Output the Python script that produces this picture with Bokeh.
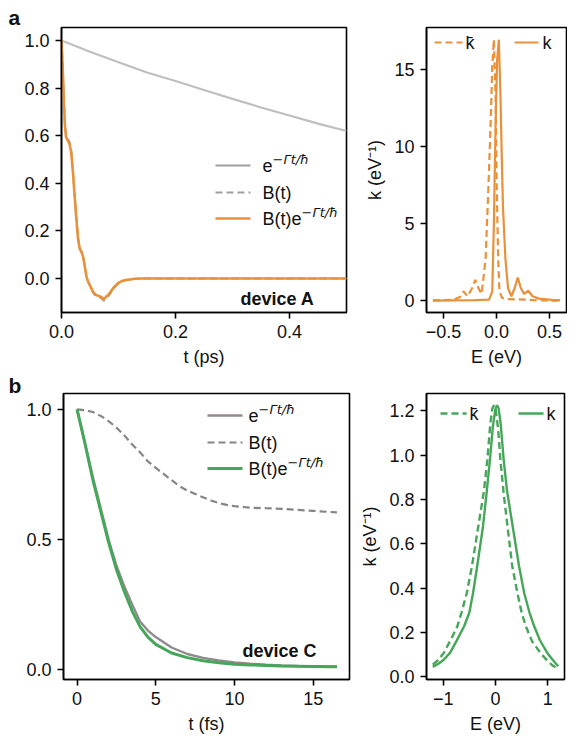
from bokeh.plotting import figure
from bokeh.models import Range1d, FixedTicker, CustomJSTickFormatter, Label, Arrow, Title
from bokeh.layouts import column, row
from bokeh.embed import file_html
from bokeh.resources import INLINE

FONT = "Liberation Sans"
ORANGE = "#E8913A"
GREEN = "#46A659"

# ---------------- data: panel a (device A) ----------------
t_a = [0, 0.002, 0.004, 0.006, 0.008, 0.011, 0.014, 0.017, 0.020, 0.023, 0.026,
       0.029, 0.032, 0.035, 0.038, 0.041, 0.044, 0.047, 0.050, 0.054, 0.058,
       0.062, 0.066, 0.070, 0.074, 0.078, 0.082, 0.086, 0.090, 0.095, 0.100,
       0.106, 0.112, 0.120, 0.130, 0.140, 0.160, 0.200, 0.300, 0.400, 0.500]
BexpA = [1.0, 0.895, 0.755, 0.643, 0.594, 0.580, 0.566, 0.531, 0.447, 0.349, 0.251,
         0.167, 0.125, 0.111, 0.090, 0.048, 0.006, -0.015, -0.029, -0.050, -0.064,
         -0.071, -0.074, -0.078, -0.088, -0.078, -0.069, -0.057, -0.043, -0.029, -0.018,
         -0.011, -0.007, -0.004, -0.001, 0.0, 0.0, 0.0, 0.0, 0.0, 0.0]
B_A = [1.0, 0.897, 0.758, 0.647, 0.598, 0.586, 0.574, 0.540, 0.456, 0.357, 0.257,
       0.172, 0.129, 0.115, 0.093, 0.050, 0.006, -0.016, -0.030, -0.053, -0.068,
       -0.075, -0.079, -0.083, -0.094, -0.084, -0.074, -0.062, -0.047, -0.032, -0.020,
       -0.012, -0.008, -0.004, -0.001, 0.0, 0.0, 0.0, 0.0, 0.0, 0.0]
t_expA = [0, 0.05, 0.10, 0.15, 0.20, 0.25, 0.30, 0.35, 0.40, 0.45, 0.50]
expA = [1.0, 0.953, 0.909, 0.866, 0.830, 0.792, 0.755, 0.719, 0.685, 0.651, 0.620]

E_a = [-0.60, -0.50, -0.40, -0.34, -0.31, -0.274, -0.23, -0.20, -0.17, -0.14,
       -0.103, -0.078, -0.056, -0.040, -0.025, -0.009, 0.003, 0.016, 0.028,
       0.053, 0.10, 0.20, 0.27, 0.35, 0.45, 0.60]
kbar_a = [0.02, 0.04, 0.06, 0.25, 0.60, 0.28, 0.80, 1.35, 0.80, 0.43,
          2.7, 7.0, 11.3, 15.1, 16.9, 13.4, 7.0, 2.7, 0.6,
          0.17, 0.10, 0.08, 0.06, 0.03, 0.01, 0.0]
E_a2 = [-0.60, -0.40, -0.20, -0.07, -0.04, -0.025, -0.009, 0.006, 0.022, 0.037,
        0.050, 0.062, 0.084, 0.109, 0.14, 0.171, 0.20, 0.23, 0.26, 0.30,
        0.34, 0.40, 0.52, 0.60]
k_a = [0.0, 0.02, 0.03, 0.06, 0.6, 4.9, 11.3, 15.6, 16.9, 13.4,
       9.1, 5.9, 2.7, 0.8, 0.28, 0.8, 1.5, 0.8, 0.43, 0.64,
       0.28, 0.13, 0.05, 0.03]

# ---------------- data: panel b (device C) ----------------
t_c = [0, 0.5, 1, 1.5, 2, 2.5, 3, 3.5, 4, 4.5, 5, 6, 7, 8, 9, 10, 11, 12, 13, 14, 15, 16, 16.5]
expC = [1.0, 0.87, 0.74, 0.62, 0.50, 0.40, 0.32, 0.25, 0.185, 0.15, 0.125, 0.085, 0.06,
        0.045, 0.035, 0.028, 0.023, 0.019, 0.016, 0.014, 0.013, 0.012, 0.012]
BexpC = [1.0, 0.87, 0.73, 0.61, 0.49, 0.385, 0.30, 0.225, 0.165, 0.125, 0.097, 0.064, 0.046,
         0.034, 0.026, 0.021, 0.018, 0.016, 0.014, 0.013, 0.012, 0.011, 0.011]
t_Bc = [0, 0.5, 1.0, 1.5, 2.0, 2.5, 3.0, 3.5, 4.0, 4.5, 5.0, 5.5, 6.0, 6.5, 7.0, 7.5,
        8.0, 8.5, 9.0, 9.5, 10.0, 11.0, 12.0, 13.0, 14.0, 15.0, 16.5]
B_C = [1.0, 0.997, 0.99, 0.975, 0.955, 0.93, 0.90, 0.865, 0.835, 0.80, 0.775, 0.752,
       0.728, 0.705, 0.688, 0.675, 0.662, 0.650, 0.640, 0.633, 0.628, 0.622, 0.620,
       0.618, 0.614, 0.610, 0.604]

E_c = [-1.2, -1.1, -1.0, -0.87, -0.75, -0.6, -0.5, -0.43, -0.35, -0.24, -0.17, -0.107,
       -0.05, 0.0, 0.03, 0.06, 0.10, 0.157, 0.22, 0.33, 0.45, 0.55, 0.65, 0.74,
       0.85, 0.99, 1.1, 1.2]
k_c = [0.045, 0.058, 0.075, 0.108, 0.16, 0.228, 0.29, 0.377, 0.50, 0.677, 0.83, 0.977,
       1.13, 1.21, 1.225, 1.21, 1.14, 0.977, 0.84, 0.677, 0.50, 0.377, 0.29, 0.228,
       0.165, 0.108, 0.075, 0.048]
E_c2 = [-1.2, -1.1, -0.99, -0.86, -0.73, -0.65, -0.55, -0.45, -0.33, -0.22, -0.157,
        -0.10, -0.06, -0.03, 0.0, 0.05, 0.094, 0.16, 0.23, 0.32, 0.42, 0.50, 0.58,
        0.70, 0.86, 1.0, 1.1, 1.2]
kbar_c = [0.055, 0.075, 0.108, 0.165, 0.228, 0.29, 0.377, 0.50, 0.677, 0.84, 0.977,
          1.14, 1.21, 1.225, 1.21, 1.12, 0.977, 0.82, 0.677, 0.50, 0.377, 0.29, 0.228,
          0.16, 0.108, 0.07, 0.05, 0.036]

ticks_ta = [0, 0.2, 0.4]
ticks_ya = [0, 0.2, 0.4, 0.6, 0.8, 1.0]
ticks_Ea = [-0.5, 0, 0.5]
ticks_ka = [0, 5, 10, 15]
ticks_tc = [0, 5, 10, 15]
ticks_yc = [0, 0.5, 1.0]
ticks_Ec = [-1, 0, 1]
ticks_kc = [0, 0.2, 0.4, 0.6, 0.8, 1.0, 1.2]


def fmt(dec):
    return CustomJSTickFormatter(code="return tick.toFixed(%d).replace('-', '\\u2212')" % dec)


def make_fig(w, h, bl, br, bt, bb, xr, yr, xt, yt, xd, yd, xlabel=None, ylabel=None):
    p = figure(width=w, height=h, x_range=Range1d(*xr), y_range=Range1d(*yr),
               output_backend="svg", toolbar_location=None,
               min_border_left=bl, min_border_right=br,
               min_border_top=bt, min_border_bottom=bb)
    p.grid.visible = False
    p.outline_line_color = "black"
    p.outline_line_width = 1.6
    p.background_fill_color = "white"
    p.border_fill_color = "white"
    p.xaxis.ticker = FixedTicker(ticks=xt)
    p.yaxis.ticker = FixedTicker(ticks=yt)
    p.xaxis.formatter = fmt(xd)
    p.yaxis.formatter = fmt(yd)
    for ax in (p.xaxis[0], p.yaxis[0]):
        ax.axis_line_width = 1.6
        ax.axis_line_color = "black"
        ax.major_tick_line_width = 1.6
        ax.major_tick_line_color = "black"
        ax.major_tick_out = 6
        ax.major_tick_in = 0
        ax.minor_tick_out = 0
        ax.minor_tick_in = 0
        ax.major_label_text_font = FONT
        ax.major_label_text_font_size = "18px"
        ax.major_label_text_color = "#111111"
        ax.axis_label_text_font = FONT
        ax.axis_label_text_font_size = "18px"
        ax.axis_label_text_font_style = "normal"
        ax.axis_label_text_color = "#111111"
        ax.axis_label_standoff = 6
    p.xaxis.major_label_standoff = 6
    p.yaxis.major_label_standoff = 6
    if xlabel:
        p.xaxis.axis_label = xlabel
    if ylabel:
        p.yaxis.axis_label = ylabel
    return p


def panel_letter(p, s, offset, standoff):
    p.add_layout(Title(text=s, align="left", offset=offset, standoff=standoff,
                       text_font=FONT, text_font_size="21px", text_font_style="bold",
                       text_color="#111111"), "above")


def lline(p, x0, x1, y, color, width, dash="solid"):
    p.add_layout(Arrow(end=None, x_start=x0, y_start=y, x_end=x1, y_end=y,
                       start_units="screen", end_units="screen",
                       line_color=color, line_width=width, line_dash=dash))


def txt(p, x, y, s, size=18, style="normal", font=FONT, color="#111111"):
    p.add_layout(Label(x=x, y=y, x_units="screen", y_units="screen", text=s,
                       text_font=font, text_font_size="%dpx" % size,
                       text_font_style=style, text_baseline="middle",
                       text_align="left", text_color=color))


SUP = "\u2212\u0393t/\u0127"

# ---- panel a, left ----
pa1 = make_fig(356, 373, 61, 10, 27, 61, (0, 0.5), (-0.143, 1.055),
               ticks_ta, ticks_ya, 1, 1, xlabel="t (ps)")
panel_letter(pa1, "a", -53, -2)
pa1.line(t_expA, expA, line_color="#BFBFBF", line_width=2.2)
pa1.line(t_a, B_A, line_color="#9E9E9E", line_width=2, line_dash="7 4")
pa1.line(t_a, BexpA, line_color=ORANGE, line_width=2.6, line_join="round")
lline(pa1, 154, 189, 147, "#9E9E9E", 2.2)
lline(pa1, 154, 189, 120, "#9E9E9E", 2.2, "7 4")
lline(pa1, 154, 189, 94, ORANGE, 2.6)
txt(pa1, 201, 147, "e")
txt(pa1, 211, 153, SUP, size=13, style="italic", font="DejaVu Sans")
txt(pa1, 201, 120, "B(t)")
txt(pa1, 201, 94, "B(t)e")
txt(pa1, 240, 100, SUP, size=13, style="italic", font="DejaVu Sans")
txt(pa1, 179, 14, "device A", size=18, style="bold")

# ---- panel a, right ----
pa2 = make_fig(211, 373, 70, 1, 25, 60, (-0.66, 0.66), (-0.77, 17.69),
               ticks_Ea, ticks_ka, 1, 0, xlabel="E (eV)", ylabel="k (eV\u207b\u00b9)")
pa2.line(E_a, kbar_a, line_color=ORANGE, line_width=2.2, line_dash="7 4")
pa2.line(E_a2, k_a, line_color=ORANGE, line_width=2.2)
lline(pa2, 8, 36, 270, ORANGE, 2.2, "7 4")
txt(pa2, 39, 270, "k\u0304")
lline(pa2, 88, 112, 270, ORANGE, 2.2)
txt(pa2, 116, 270, "k")

# ---- panel b, left ----
pb1 = make_fig(357, 366, 63, 8, 18, 60, (-0.86, 17.3), (-0.038, 1.061),
               ticks_tc, ticks_yc, 0, 1, xlabel="t (fs)")
panel_letter(pb1, "b", -55, -6)
pb1.line(t_Bc, B_C, line_color="#858585", line_width=2.2, line_dash="7 4")
pb1.line(t_c, expC, line_color="#8E8A8E", line_width=2.4)
pb1.line(t_c, BexpC, line_color=GREEN, line_width=3)
lline(pb1, 144, 179, 264, "#8E8A8E", 2.4)
lline(pb1, 144, 179, 237, "#858585", 2.2, "7 4")
lline(pb1, 144, 179, 211, GREEN, 3)
txt(pb1, 185, 264, "e")
txt(pb1, 195, 270, SUP, size=13, style="italic", font="DejaVu Sans")
txt(pb1, 185, 237, "B(t)")
txt(pb1, 185, 211, "B(t)e")
txt(pb1, 224, 217, SUP, size=13, style="italic", font="DejaVu Sans")
txt(pb1, 179, 29, "device C", size=18, style="bold")

# ---- panel b, right ----
pb2 = make_fig(210, 366, 66, 3, 20, 60, (-1.32, 1.32), (-0.012, 1.278),
               ticks_Ec, ticks_kc, 0, 1, xlabel="E (eV)", ylabel="k (eV\u207b\u00b9)")
pb2.line(E_c2, kbar_c, line_color=GREEN, line_width=2.4, line_dash="7 4")
pb2.line(E_c, k_c, line_color=GREEN, line_width=2.4)
lline(pb2, 14, 40, 266, GREEN, 2.4, "7 4")
txt(pb2, 43, 266, "k\u0304")
lline(pb2, 92, 117, 266, GREEN, 2.4)
txt(pb2, 120, 266, "k")

layout = column(row(pa1, pa2), row(pb1, pb2))
open("out.html", "w").write(file_html(layout, INLINE))
